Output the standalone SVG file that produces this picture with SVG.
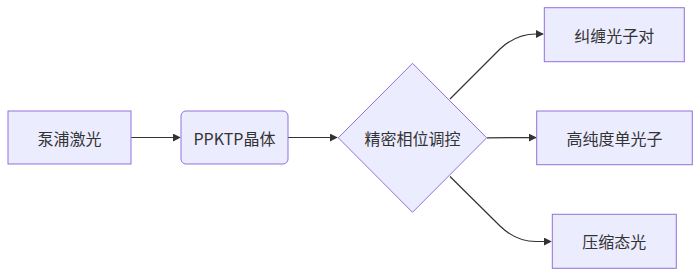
<svg xmlns="http://www.w3.org/2000/svg" width="700" height="276" viewBox="0 0 700 276">
<defs>
<marker id="arr" viewBox="0 0 10 10" refX="9" refY="5" markerWidth="8" markerHeight="8" markerUnits="userSpaceOnUse" orient="auto">
<path d="M0,0 L10,5 L0,10 z" fill="#333"/>
</marker>
<style>
.n{fill:#ECECFF;stroke:#9370DB;stroke-width:1}
.t{font-family:"Noto Sans CJK SC","Noto Sans",sans-serif;font-size:16px;fill:#333;text-anchor:middle;dominant-baseline:central}
.e{fill:none;stroke:#333;stroke-width:1.2;marker-end:url(#arr)}
</style>
</defs>
<rect width="700" height="276" fill="#fff"/>
<g id="edges">
<path class="e" d="M131,137.5 L180,137.5"/>
<path class="e" d="M288,137.5 L337,137.5"/>
<path class="e" d="M450,99 L500,49 Q516,34 536,34 L543,34"/>
<path class="e" d="M487,137.8 L536,137.6"/>
<path class="e" d="M450,176.5 L500,226 Q516,241.5 536,241.5 L551,241.5"/>
</g>
<g id="n1"><rect class="n" x="8" y="111" width="123" height="53"/><text class="t" x="69.5" y="137.5">泵浦激光</text></g>
<g id="n2"><rect class="n" x="181" y="111" width="107" height="53" rx="5"/><text class="t" x="234.5" y="137.5">PPKTP晶体</text></g>
<g id="n3"><polygon class="n" points="412.5,63.3 486.7,137.8 412.5,212.3 338.3,137.8"/><text class="t" x="412.5" y="137.8">精密相位调控</text></g>
<g id="n4"><rect class="n" x="544.3" y="7.7" width="140" height="54"/><text class="t" x="614.3" y="34.7">纠缠光子对</text></g>
<g id="n5"><rect class="n" x="536.7" y="111" width="155.6" height="53.7"/><text class="t" x="614.5" y="137.8">高纯度单光子</text></g>
<g id="n6"><rect class="n" x="552.3" y="214.3" width="124" height="54"/><text class="t" x="614.3" y="241.3">压缩态光</text></g>
</svg>
